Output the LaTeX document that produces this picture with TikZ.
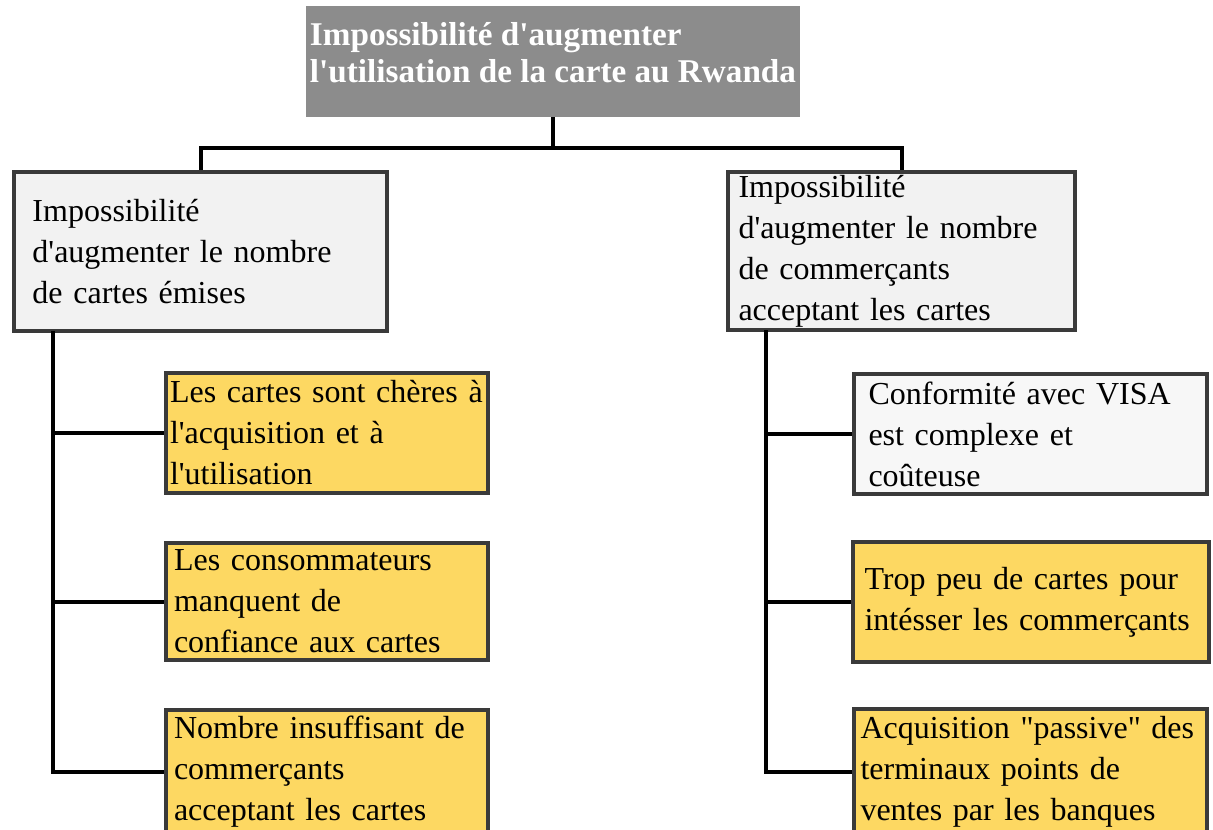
\documentclass[tikz,border=0pt]{standalone}
\usepackage{fontspec}
\setmainfont{Liberation Serif}[Ligatures=TeXOff]
\usepackage{tikz}
\usetikzlibrary{positioning}

\definecolor{titlegray}{HTML}{8C8C8C}
\definecolor{boxgray}{HTML}{F2F2F2}
\definecolor{lightgray}{HTML}{F7F7F7}
\definecolor{cardyellow}{HTML}{FDD862}
\definecolor{edgegray}{HTML}{3A3A3A}

\begin{document}
\begin{tikzpicture}[
                x=0.5pt, y=-0.5pt,
                title/.style={rectangle,fill=titlegray,text=white,font=\fontsize{16.6}{18.5}\selectfont\bfseries,
                    align=left,inner xsep=1pt,inner ysep=0pt,text depth=9pt,minimum width=247pt,minimum height=55.5pt},
                cause/.style={rectangle,draw=edgegray,line width=2pt,fill=boxgray,font=\fontsize{16}{20.5}\selectfont,
                    align=left,inner ysep=0pt},
                reason/.style={rectangle,draw=edgegray,line width=2pt,fill=cardyellow,font=\fontsize{16}{20.5}\selectfont,
                    align=left,inner ysep=0pt},
                link/.style={line width=2pt,black},
            ]
            \useasboundingbox (0,0) rectangle (1213,829);

            % Define nodes
            \node[title] (top) at (553,61.5) {Impossibilité d'augmenter\\l'utilisation de la carte au Rwanda};
            \node[cause,inner xsep=9pt,text width=168pt,minimum width=186.5pt,minimum height=79.5pt] (L1) at (200.5,251.5)
                {Impossibilité\\d'augmenter le nombre\\de cartes émises};
            \node[cause,inner xsep=5pt,text width=163pt,minimum width=173.5pt,minimum height=79pt] (R1) at (901.5,251)
                {Impossibilité\\d'augmenter le nombre\\de commerçants\\acceptant les cartes};

            \node[reason,inner xsep=2pt,text width=157pt,minimum width=161pt,minimum height=60pt] (LA) at (327,433)
                {Les cartes sont chères à\\l'acquisition et à\\l'utilisation};
            \node[reason,inner xsep=4pt,text width=153pt,minimum width=161pt,minimum height=58.5pt] (LB) at (327,601.5)
                {Les consommateurs\\manquent de\\confiance aux cartes};
            \node[reason,inner xsep=4pt,text width=153pt,minimum width=161pt,minimum height=62pt] (LC) at (327,772)
                {Nombre insuffisant de\\commerçants\\acceptant les cartes};

            \node[cause,fill=lightgray,inner xsep=7pt,text width=162pt,minimum width=176.5pt,minimum height=60pt] (RA) at (1030.5,434)
                {Conformité avec VISA\\est complexe et\\coûteuse};
            \node[reason,inner xsep=6pt,text width=166pt,minimum width=176.5pt,minimum height=60pt] (RB) at (1030.5,602)
                {Trop peu de cartes pour\\intésser les commerçants\\[6pt]};
            \node[reason,inner xsep=3pt,text width=170pt,minimum width=176.5pt,minimum height=62.5pt] (RC) at (1030.5,771.5)
                {Acquisition "passive" des\\terminaux points de\\ventes par les banques};

            % Branch points
            \coordinate (split) at (553,148);
            \coordinate (lspine) at (53,331);
            \coordinate (rspine) at (766,330);

            % Draw connections
            \draw[link] (top) -- (split);
            \draw[link] (split) -| (L1);
            \draw[link] (split) -| (R1);

            \draw[link] (lspine) |- (LA);
            \draw[link] (lspine) |- (LB);
            \draw[link] (lspine) |- (LC);

            \draw[link] (rspine) |- (RA);
            \draw[link] (rspine) |- (RB);
            \draw[link] (rspine) |- (RC);

            \end{tikzpicture}
\end{document}
